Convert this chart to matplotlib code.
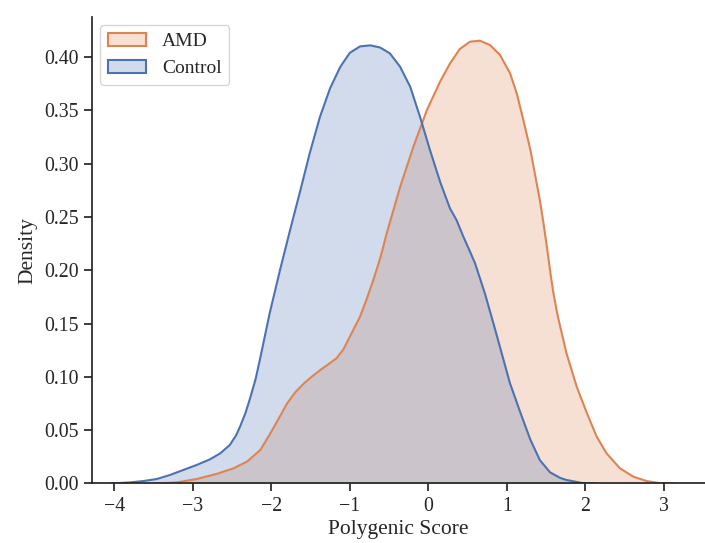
import matplotlib
matplotlib.use("Agg")
import matplotlib.pyplot as plt
import seaborn as sns
from matplotlib.patches import Patch
from matplotlib.colors import to_rgb

# Density curves (x = polygenic score, y = density)
control_x = [-4.05, -3.80, -3.63, -3.46, -3.29, -3.12, -2.95, -2.78, -2.65, -2.53, -2.45,
             -2.40, -2.33, -2.27, -2.20, -2.14, -2.08, -2.02, -1.89, -1.76, -1.63, -1.51,
             -1.38, -1.25, -1.12, -1.00, -0.87, -0.74, -0.615, -0.49, -0.36, -0.23, -0.106,
             0.02, 0.15, 0.276, 0.36, 0.446, 0.51, 0.595, 0.72, 0.83, 0.935, 1.04, 1.17, 1.30,
             1.42, 1.55, 1.68, 1.76, 1.97, 2.15]
control_y = [0.0, 0.001, 0.0023, 0.0042, 0.008, 0.0127, 0.0174, 0.0227, 0.0283, 0.036, 0.045,
             0.053, 0.066, 0.080, 0.098, 0.118, 0.139, 0.160, 0.200, 0.238, 0.275, 0.310,
             0.344, 0.371, 0.391, 0.404, 0.410, 0.411, 0.409, 0.4035, 0.391, 0.372, 0.344,
             0.313, 0.283, 0.258, 0.247, 0.2315, 0.221, 0.2066, 0.1784, 0.150, 0.122, 0.094, 0.067, 0.041,
             0.022, 0.0105, 0.0052, 0.0033, 0.0003, 0.0]

amd_x = [-3.45, -3.21, -2.95, -2.70, -2.48, -2.31, -2.14, -2.02, -1.89, -1.80, -1.69, -1.59,
         -1.48, -1.38, -1.27, -1.17, -1.08, -1.00, -0.87, -0.79, -0.70, -0.61, -0.53, -0.36,
         -0.19, -0.02, 0.15, 0.276, 0.40, 0.53, 0.656, 0.786, 0.913, 1.04, 1.126, 1.21, 1.30,
         1.38, 1.42, 1.465, 1.51, 1.55, 1.59, 1.64, 1.68, 1.76, 1.89, 2.02, 2.145, 2.27, 2.44,
         2.61, 2.78, 2.95, 3.15]
amd_y = [0.0, 0.001, 0.0042, 0.0089, 0.0143, 0.0205, 0.0314, 0.046, 0.063, 0.075, 0.086, 0.0935,
         0.1005, 0.1062, 0.112, 0.1174, 0.126, 0.1377, 0.1565, 0.172, 0.191, 0.212, 0.2347, 0.278,
         0.316, 0.350, 0.377, 0.394, 0.4075, 0.4144, 0.4154, 0.4113, 0.402, 0.385, 0.366, 0.341, 0.313,
         0.2816, 0.266, 0.245, 0.222, 0.200, 0.180, 0.160, 0.147, 0.122, 0.0908, 0.0659, 0.0439, 0.0283, 0.0143,
         0.0064, 0.0023, 0.0003, 0.0]

yticks = [0.00, 0.05, 0.10, 0.15, 0.20, 0.25, 0.30, 0.35, 0.40]
xticks = [-4, -3, -2, -1, 0, 1, 2, 3]

sns.set_style("ticks")
plt.rcParams["font.family"] = ["Liberation Serif", "DejaVu Serif"]

blue = "#4C72B0"
orange = "#DD8452"

fig = plt.figure(figsize=(7.05, 5.43), dpi=100)
ax = fig.add_axes([0.1305, 0.1096, 0.8695, 0.8591])

# AMD first, control on top (as in the reference overlap)
ax.fill_between(amd_x, amd_y, 0, color=orange, alpha=0.25, lw=0)
ax.plot(amd_x, amd_y, color=orange, lw=1.5)
ax.fill_between(control_x, control_y, 0, color=blue, alpha=0.25, lw=0)
ax.plot(control_x, control_y, color=blue, lw=1.5)

ax.set_xlim(-4.284, 3.524)
ax.set_ylim(0, 0.4376)
ax.set_xticks(xticks)
ax.set_yticks(yticks)
ax.set_yticklabels([f"{v:.2f}" for v in yticks])
ax.set_xticklabels([f"{v}".replace("-", "\u2212") for v in xticks])
ax.tick_params(labelsize=14.3, width=1.25, length=6, color="#262626")
ax.set_xlabel("Polygenic Score", fontsize=15.5, labelpad=3)
ax.set_ylabel("Density", fontsize=15.5, labelpad=5)
for s in ["left", "bottom"]:
    ax.spines[s].set_linewidth(1.25)
    ax.spines[s].set_color("#262626")
sns.despine(ax=ax)

handles = [Patch(facecolor=(*to_rgb(c), 0.25), edgecolor=c, lw=1.5) for c in [orange, blue]]
ax.legend(handles, ["AMD", "Control"], loc="upper left", fontsize=14,
          frameon=True, borderaxespad=0.4)

plt.savefig("out.png", dpi=100)
